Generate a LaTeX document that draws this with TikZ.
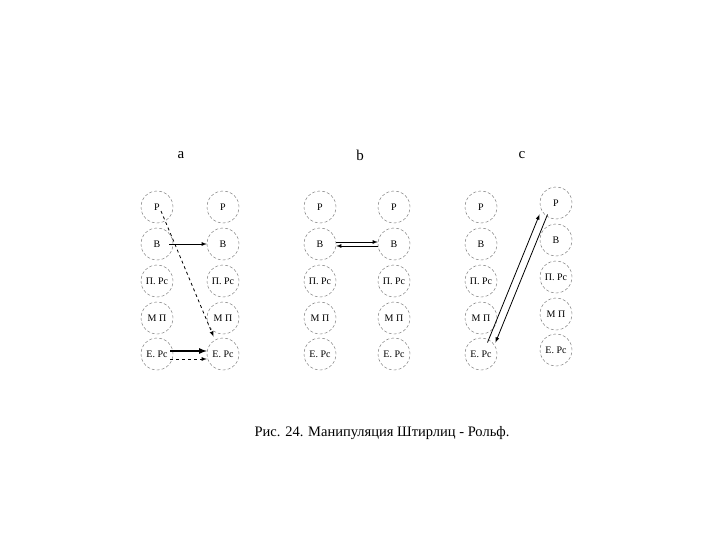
\documentclass[tikz,border=0pt]{standalone}
\usepackage{fontspec}
\setmainfont{Liberation Serif}
\begin{document}
\begin{tikzpicture}[x=1pt,y=-1pt,>={latex},
  st/.style={circle,draw,densely dashed,black!60,text=black,minimum size=32pt,inner sep=0pt,font=\fontsize{10}{11}\selectfont},
  lab/.style={font=\fontsize{15}{17}\selectfont}]
\useasboundingbox (0,0) rectangle (720,540);
\foreach \p/\x/\dy in {a/157/0,ar/223/0,b/320/0,br/394/0,c/481/0,cr/556/-4}{
  \node[st] (\p1) at (\x,207+\dy) {Р};
  \node[st] (\p2) at (\x,244+\dy) {В};
  \node[st] (\p3) at (\x,281+\dy) {П. Рс};
  \node[st] (\p4) at (\x,318+\dy) {М П};
  \node[st] (\p5) at (\x,354+\dy) {Е. Рс};
}
\node[lab] (la) at (181,155) {a};
\node[lab] (lb) at (360,155) {b};
\node[lab] (lc) at (522,155) {c};
\node[font=\fontsize{14.5}{16}\selectfont] (cap) at (382,433) {Рис. 24. Манипуляция Штирлиц - Рольф.};
% a
\draw[->,thick] ([xshift=-4]a2.east) -- (ar2.west);
\draw[->,thick,dashed] ([xshift=4,yshift=-4]a1.center) -- ([xshift=2,yshift=6]ar5.north west);
\draw[->,line width=1.6pt] ([yshift=3,xshift=-3]a5.east) -- ([yshift=3]ar5.west);
\draw[->,thick,dashed] ([yshift=-5,xshift=-3]a5.east) -- ([yshift=-5]ar5.west);
% b
\draw[->,thick] ([yshift=2]b2.east) -- ([yshift=2]br2.west);
\draw[->,thick] ([yshift=-2]br2.west) -- ([yshift=-2]b2.east);
% c
\draw[->,thick] ([xshift=-5]c5.north east) -- ([xshift=-5]cr1.south west);
\draw[->,thick] ([xshift=3]cr1.south west) -- ([xshift=3]c5.north east);
\end{tikzpicture}
\end{document}
